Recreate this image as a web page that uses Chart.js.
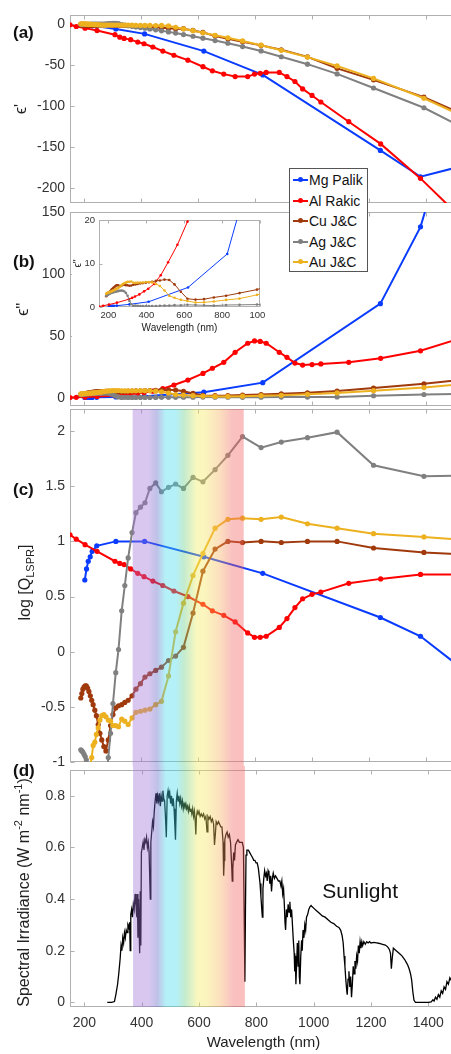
<!DOCTYPE html>
<html lang="en">
<head>
  <meta charset="UTF-8">
  <title>Plasmonic metals: permittivity, LSPR quality and sunlight</title>
  <script src="https://cdn.jsdelivr.net/npm/chart.js"></script>
  <style>
    html, body { margin: 0; padding: 0; background: #fff; }
    body { width: 451px; height: 1054px; overflow: hidden; position: relative; font-family: Arial, "Liberation Sans", sans-serif; }
    .panel { position: absolute; left: 0; }
    #chartInset { position: absolute; left: 72px; top: 213px; background: #fff; z-index: 2; }
    .tag { position: absolute; left: 13px; font-weight: bold; font-size: 17px; line-height: 20px; color: #111; }
    #legend { position: absolute; left: 289px; top: 168px; width: 77px; height: 102px; border: 1px solid #555; background: #fff; z-index: 3; }
    .row { position: absolute; left: 0; height: 20px; line-height: 20px; font-size: 14px; color: #111; white-space: nowrap; }
    .row i { position: absolute; left: 3px; top: 9px; width: 15px; height: 2px; }
    .row i b { position: absolute; left: 5px; top: -2px; width: 5px; height: 5px; border-radius: 50%; background: inherit; }
    .row span { position: absolute; left: 19px; }
  </style>
</head>
<body>
  <canvas id="chartA" class="panel" width="457" height="206" style="top:0px"></canvas>
  <canvas id="chartB" class="panel" width="457" height="203" style="top:206px"></canvas>
  <canvas id="chartC" class="panel" width="457" height="361" style="top:405px"></canvas>
  <canvas id="chartD" class="panel" width="457" height="288" style="top:766px"></canvas>
  <canvas id="chartInset" width="193" height="125"></canvas>
  <div id="legend"></div>
  <div class="tag" style="top:23px">(a)</div>
  <div class="tag" style="top:252px">(b)</div>
  <div class="tag" style="top:480px">(c)</div>
  <div class="tag" style="top:761px">(d)</div>

  <script>
    // ---- data ----
    const xTicks = [200, 400, 600, 800, 1000, 1200, 1400];
    const ticksA = [-200, -150, -100, -50, 0];
    const ticksB = [0, 50, 100, 150];
    const ticksC = [-1, -0.5, 0, 0.5, 1, 1.5, 2];
    const ticksD = [0, 0.2, 0.4, 0.6, 0.8];
    const insetXTicks = [200, 400, 600, 800, 1000];
    const insetYTicks = [0, 10, 20];
    const visibleBand = [370, 760];

    const seriesNames = ['Mg Palik', 'Al Rakic', 'Cu J&C', 'Ag J&C', 'Au J&C'];

    // Mg (Palik)
    const mgWl = [202, 208, 214, 221, 228, 244, 311, 412, 620, 827, 1240, 1381, 1550];
    const mgRe = [-1.0, -1.2, -1.5, -1.8, -2.2, -2.8, -6, -12, -33, -62, -154, -186, -171];
    const mgIm = [0.22, 0.21, 0.23, 0.25, 0.26, 0.31, 0.6, 1.2, 4.5, 12.2, 76, 138, 270];
    const mgLogQ = [0.65, 0.75, 0.82, 0.86, 0.91, 0.96, 1.0, 1.0, 0.86, 0.71, 0.31, 0.14, -0.2];

    // Al (Rakic)
    const alWl = [150, 172, 203, 245, 308, 325, 340, 363, 388, 410, 441, 476, 515, 564, 617, 650,
                  690, 730, 774, 798, 818, 839, 885, 912, 940, 967, 1000, 1031, 1129, 1241, 1381, 1550];
    const alRe = [-1, -3, -5, -8, -13, -16, -17.5, -19, -22, -24, -28, -33, -38, -44, -52, -57,
                  -61, -64, -64, -61, -60, -59, -59, -64, -70, -79, -87, -95, -119, -146, -188, -245];
    const alIm = [0.1, 0.3, 0.55, 1.0, 1.8, 2.1, 2.4, 2.9, 3.6, 4.2, 5.3, 7.3, 10.3, 14.3, 19.6, 23.8,
                  28.6, 36.7, 44, 45.9, 45.5, 44, 36.7, 32.6, 28, 26.4, 26.8, 27.3, 28.6, 31.8, 37.9, 50];
    const alLogQ = [1.06, 1.02, 0.97, 0.91, 0.82, 0.80, 0.79, 0.75, 0.71, 0.68, 0.64, 0.60, 0.55, 0.50, 0.43, 0.37,
                    0.33, 0.27, 0.17, 0.13, 0.13, 0.14, 0.22, 0.30, 0.40, 0.48, 0.52, 0.54, 0.62, 0.66, 0.70, 0.70];

    // Johnson & Christy grid (Cu, Ag, Au)
    const jcWl = [187.9, 191.6, 195.3, 199.3, 203.3, 207.3, 211.9, 216.4, 221.4, 226.2,
                  231.3, 237.1, 242.6, 249.0, 255.1, 261.6, 268.9, 276.1, 284.4, 292.4,
                  300.9, 310.7, 320.4, 331.5, 342.5, 354.2, 367.9, 381.5, 397.4, 413.3,
                  430.5, 450.9, 471.4, 495.9, 520.9, 548.6, 582.1, 616.8, 659.5, 704.5,
                  756.0, 821.1, 892.0, 984.0, 1088, 1216, 1393, 1610];

    const cuRe = [-0.95, -1.13, -1.33, -1.48, -1.62, -1.72, -1.73, -1.75, -1.67, -1.60,
                  -1.52, -1.42, -1.32, -1.09, -0.89, -0.76, -0.68, -0.64, -0.81, -1.07,
                  -1.35, -1.51, -1.60, -1.69, -1.80, -1.92, -2.15, -2.51, -2.87, -3.36,
                  -3.66, -4.06, -4.42, -5.24, -5.65, -5.70, -7.83, -10.2, -14.5, -18.0,
                  -21.5, -26.0, -31.3, -40.0, -54.0, -68.0, -89.0, -122];
    const cuIm = [2.5, 2.7, 2.9, 3.1, 3.3, 3.5, 3.7, 4.0, 4.2, 4.4,
                  4.6, 4.8, 5.0, 5.0, 4.9, 4.8, 4.9, 5.1, 5.1, 5.0,
                  5.0, 4.9, 4.95, 5.1, 5.2, 5.3, 5.4, 5.5, 5.6, 5.7,
                  5.8, 6.0, 6.1, 6.3, 6.2, 5.2, 3.5, 1.9, 1.7, 1.8,
                  2.2, 2.6, 3.2, 4.0, 5.4, 7.8, 11.2, 16.5];
    const cuLogQ = [-0.42, -0.38, -0.34, -0.32, -0.31, -0.31, -0.33, -0.36, -0.40, -0.44,
                    -0.48, -0.53, -0.58, -0.66, -0.74, -0.80, -0.86, -0.90, -0.80, -0.67,
                    -0.57, -0.51, -0.49, -0.48, -0.46, -0.44, -0.40, -0.34, -0.29, -0.23,
                    -0.20, -0.17, -0.14, -0.08, -0.04, 0.04, 0.35, 0.73, 0.93, 1.00,
                    0.99, 1.00, 0.99, 1.00, 1.00, 0.94, 0.90, 0.87];

    const agRe = [-0.32, -0.31, -0.32, -0.33, -0.36, -0.33, -0.32, -0.30, -0.24, -0.22,
                  -0.20, -0.23, -0.21, -0.21, -0.17, -0.10, 0.02, 0.22, 0.39, 0.58,
                  0.87, 0.90, 0.50, -0.66, -1.28, -2.00, -2.74, -3.47, -4.28, -5.17,
                  -6.06, -7.06, -8.23, -9.56, -11.05, -12.86, -14.88, -17.24, -20.10, -23.40,
                  -27.48, -32.80, -39.84, -48.89, -60.76, -77.93, -102.0, -140.4];
    const agIm = [2.59, 2.71, 2.81, 2.91, 2.98, 3.10, 3.18, 3.26, 3.36, 3.39,
                  3.47, 3.50, 3.58, 3.64, 3.71, 3.74, 3.79, 3.75, 3.56, 3.23,
                  2.58, 1.39, 0.64, 0.28, 0.32, 0.28, 0.23, 0.19, 0.21, 0.23,
                  0.20, 0.21, 0.29, 0.31, 0.33, 0.43, 0.39, 0.50, 0.45, 0.39,
                  0.31, 0.46, 0.50, 0.56, 0.62, 1.59, 2.63, 3.56];
    const agLogQ = [-0.89, -0.90, -0.91, -0.93, -0.95, -0.98, -1.02, -1.06, -1.15, -1.19,
                    -1.24, -1.18, -1.23, -1.24, -1.34, -1.57, -2.3, -1.23, -0.96, -0.74,
                    -0.47, -0.19, 0.02, 0.37, 0.60, 0.85, 1.08, 1.26, 1.31, 1.35,
                    1.48, 1.53, 1.45, 1.49, 1.52, 1.48, 1.58, 1.54, 1.65, 1.78,
                    1.95, 1.85, 1.90, 1.94, 1.99, 1.69, 1.59, 1.60];

    const auRe = [0.23, 0.30, 0.29, 0.20, 0.14, -0.01, -0.13, -0.23, -0.35, -0.42,
                  -0.55, -0.62, -0.74, -0.89, -1.08, -1.24, -1.35, -1.37, -1.33, -1.31,
                  -1.23, -1.24, -1.23, -1.35, -1.31, -1.23, -1.40, -1.60, -1.65, -1.70,
                  -1.69, -1.76, -1.70, -2.28, -3.95, -5.84, -8.11, -10.66, -13.65, -16.82,
                  -20.61, -25.81, -32.04, -40.27, -51.05, -66.22, -90.43, -125.35];
    const auIm = [3.04, 3.18, 3.29, 3.33, 3.40, 3.39, 3.51, 3.61, 3.71, 3.83,
                  3.89, 4.06, 4.16, 4.34, 4.49, 4.72, 4.98, 5.28, 5.49, 5.60,
                  5.78, 5.79, 5.85, 5.57, 5.54, 5.60, 5.61, 5.64, 5.74, 5.72,
                  5.65, 5.28, 4.84, 3.81, 2.58, 2.11, 1.66, 1.37, 1.04, 1.07,
                  1.27, 1.63, 1.93, 2.79, 3.86, 5.70, 8.19, 12.56];
    const auLogQ = [-1.12, -1.03, -1.06, -1.22, -1.39, -2.5, -1.43, -1.20, -1.03, -0.96,
                    -0.85, -0.82, -0.75, -0.69, -0.62, -0.58, -0.57, -0.59, -0.62, -0.63,
                    -0.67, -0.67, -0.68, -0.61, -0.63, -0.66, -0.60, -0.55, -0.54, -0.53,
                    -0.52, -0.48, -0.45, -0.22, 0.18, 0.44, 0.69, 0.89, 1.12, 1.20,
                    1.21, 1.20, 1.22, 1.16, 1.12, 1.07, 1.04, 1.00];

    // solar spectral irradiance (W m^-2 nm^-1)
    const sunWl = [280, 295, 305, 310, 316, 320, 325, 328, 331, 334,
                   337, 340, 343, 346, 349, 352, 355, 358, 360, 362,
                   365, 368, 371, 374, 377, 380, 383, 385, 387, 389,
                   391, 393, 395, 397, 399, 402, 405, 408, 411, 414,
                   417, 420, 423, 426, 430, 432, 435, 438, 441, 444,
                   447, 450, 453, 456, 459, 462, 465, 468, 471, 474,
                   477, 480, 483, 486, 489, 492, 495, 498, 501, 504,
                   507, 510, 513, 516, 518, 521, 524, 527, 530, 533,
                   536, 539, 542, 545, 548, 551, 554, 557, 560, 563,
                   566, 569, 572, 575, 578, 581, 584, 587, 589, 591,
                   594, 597, 600, 604, 608, 612, 616, 620, 624, 628,
                   631, 635, 639, 643, 647, 651, 654, 657, 660, 664,
                   668, 672, 676, 680, 684, 686, 688, 690, 694, 698,
                   702, 706, 710, 714, 716, 718, 721, 724, 727, 731,
                   736, 741, 746, 751, 755, 758, 760, 762, 764, 767,
                   772, 777, 782, 787, 791, 795, 799, 803, 807, 810,
                   813, 816, 819, 821, 823, 826, 829, 832, 835, 838,
                   841, 844, 847, 850, 853, 856, 859, 863, 867, 872,
                   877, 882, 886, 889, 892, 895, 898, 900, 902, 905,
                   908, 911, 914, 917, 920, 923, 926, 929, 932, 934,
                   936, 938, 941, 943, 946, 948, 950, 952, 955, 958,
                   960, 963, 966, 969, 972, 975, 979, 983, 987, 991,
                   995, 1000, 1010, 1020, 1030, 1040, 1050, 1060, 1070, 1080,
                   1088, 1094, 1099, 1103, 1106, 1109, 1112, 1115, 1117, 1120,
                   1123, 1126, 1129, 1132, 1135, 1138, 1141, 1144, 1147, 1150,
                   1153, 1156, 1159, 1162, 1165, 1168, 1171, 1175, 1180, 1185,
                   1190, 1195, 1200, 1210, 1220, 1230, 1240, 1250, 1258, 1264,
                   1268, 1271, 1274, 1278, 1283, 1288, 1293, 1298, 1303, 1308,
                   1313, 1318, 1323, 1328, 1333, 1338, 1342, 1346, 1350, 1355,
                   1400, 1410, 1416, 1420, 1425, 1430, 1435, 1440, 1445, 1450,
                   1455, 1460, 1465, 1470, 1475, 1480, 1490, 1500];
    const sunIrr = [0, 0, 0.003, 0.03, 0.07, 0.11, 0.17, 0.22, 0.20, 0.25,
                    0.23, 0.27, 0.25, 0.28, 0.27, 0.30, 0.29, 0.31, 0.20, 0.34,
                    0.36, 0.33, 0.38, 0.36, 0.42, 0.38, 0.33, 0.42, 0.25, 0.40,
                    0.30, 0.19, 0.43, 0.22, 0.58, 0.60, 0.62, 0.59, 0.63, 0.62,
                    0.64, 0.60, 0.62, 0.58, 0.40, 0.62, 0.66, 0.70, 0.68, 0.74,
                    0.78, 0.81, 0.77, 0.80, 0.78, 0.81, 0.76, 0.80, 0.78, 0.82,
                    0.79, 0.78, 0.72, 0.64, 0.80, 0.82, 0.79, 0.81, 0.77, 0.80,
                    0.76, 0.79, 0.75, 0.68, 0.63, 0.78, 0.81, 0.78, 0.80, 0.77,
                    0.79, 0.76, 0.78, 0.75, 0.77, 0.76, 0.77, 0.75, 0.76, 0.74,
                    0.76, 0.74, 0.75, 0.73, 0.75, 0.72, 0.74, 0.70, 0.65, 0.72,
                    0.74, 0.73, 0.74, 0.72, 0.73, 0.72, 0.73, 0.71, 0.72, 0.66,
                    0.72, 0.71, 0.72, 0.70, 0.71, 0.69, 0.61, 0.65, 0.70, 0.69,
                    0.70, 0.69, 0.68, 0.68, 0.62, 0.49, 0.55, 0.63, 0.65, 0.66,
                    0.64, 0.65, 0.62, 0.53, 0.47, 0.52, 0.58, 0.55, 0.61, 0.62,
                    0.63, 0.62, 0.62, 0.62, 0.60, 0.30, 0.08, 0.35, 0.57, 0.59,
                    0.59, 0.58, 0.57, 0.56, 0.55, 0.55, 0.54, 0.54, 0.52, 0.49,
                    0.46, 0.41, 0.36, 0.33, 0.44, 0.48, 0.51, 0.49, 0.50, 0.47,
                    0.51, 0.50, 0.46, 0.49, 0.43, 0.48, 0.50, 0.48, 0.49, 0.48,
                    0.47, 0.47, 0.45, 0.47, 0.42, 0.44, 0.37, 0.31, 0.28, 0.36,
                    0.33, 0.38, 0.35, 0.39, 0.33, 0.36, 0.30, 0.24, 0.19, 0.12,
                    0.18, 0.07, 0.16, 0.23, 0.14, 0.24, 0.10, 0.07, 0.18, 0.24,
                    0.20, 0.28, 0.25, 0.30, 0.28, 0.33, 0.34, 0.36, 0.37, 0.375,
                    0.37, 0.365, 0.355, 0.345, 0.335, 0.33, 0.32, 0.31, 0.305, 0.295,
                    0.29, 0.28, 0.26, 0.23, 0.18, 0.14, 0.09, 0.05, 0.03, 0.09,
                    0.12, 0.06, 0.10, 0.02, 0.07, 0.14, 0.11, 0.16, 0.13, 0.18,
                    0.16, 0.22, 0.19, 0.235, 0.21, 0.235, 0.22, 0.235, 0.225, 0.235,
                    0.23, 0.235, 0.23, 0.232, 0.23, 0.228, 0.225, 0.222, 0.215, 0.205,
                    0.19, 0.13, 0.17, 0.21, 0.205, 0.2, 0.195, 0.19, 0.185, 0.18,
                    0.172, 0.165, 0.155, 0.145, 0.13, 0.11, 0.085, 0.04, 0.008, 0,
                    0, 0.002, 0.01, 0.005, 0.02, 0.012, 0.03, 0.02, 0.045, 0.035,
                    0.06, 0.05, 0.08, 0.07, 0.095, 0.085, 0.1, 0.11];

    // ---- styles ----
    const FONT = 'Arial, "Liberation Sans", Helvetica, sans-serif';
    const seriesColours = ['#0a3cff', '#ff0000', '#a03a0c', '#808080', '#edb120'];
    const AXIS = '#b0b0b0';
    const TICK = '#333333';
    const bandStops = [
      [370, 'rgba(160,115,217,0.4)'], [425, 'rgba(160,115,217,0.4)'],
      [455, 'rgba(95,100,195,0.4)'], [485, 'rgba(68,218,235,0.4)'],
      [522, 'rgba(68,218,235,0.4)'], [550, 'rgba(105,205,135,0.4)'],
      [595, 'rgba(242,237,92,0.4)'], [625, 'rgba(245,228,92,0.4)'],
      [672, 'rgba(247,180,92,0.4)'], [720, 'rgba(242,100,100,0.4)'],
      [760, 'rgba(242,92,92,0.4)']
    ];

    Chart.defaults.font.family = FONT;
    Chart.defaults.animation = false;
    Chart.defaults.plugins.legend.display = false;
    Chart.defaults.plugins.tooltip.enabled = false;

    const metals = [
      {wl: mgWl, re: mgRe, im: mgIm, q: mgLogQ},
      {wl: alWl, re: alRe, im: alIm, q: alLogQ},
      {wl: jcWl, re: cuRe, im: cuIm, q: cuLogQ},
      {wl: jcWl, re: agRe, im: agIm, q: agLogQ},
      {wl: jcWl, re: auRe, im: auIm, q: auLogQ}
    ];

    function pairs(xs, ys) { return xs.map((x, i) => ({x: x, y: ys[i]})); }

    function metalSets(key, r, w) {
      return metals.map((m, i) => ({
        label: seriesNames[i],
        data: pairs(m.wl, m[key]),
        borderColor: seriesColours[i],
        backgroundColor: seriesColours[i],
        pointRadius: r, pointHoverRadius: r, pointBorderWidth: 0,
        borderWidth: w,
        order: metals.length - 1 - i
      }));
    }

    function xScale(min, max, ticks, h, opts) {
      opts = opts || {};
      return {
        type: 'linear', min: min, max: max,
        afterBuildTicks: s => { s.ticks = ticks.map(v => ({value: v})); },
        afterFit: s => { s.height = h; s.paddingLeft = 0; s.paddingRight = 0; },
        grid: {display: false, drawTicks: false}, border: {display: false},
        ticks: {display: !!opts.labels, padding: opts.pad || 8, color: TICK, autoSkip: false, maxRotation: 0,
                font: {size: opts.size || 14}, callback: v => String(v)},
        title: opts.title ? {display: true, text: opts.title, color: '#222', font: {size: opts.titleSize || 15},
                             padding: {top: 0, bottom: opts.titlePad || 2}} : {display: false}
      };
    }

    function yScale(min, max, ticks, w, opts) {
      opts = opts || {};
      return {
        type: 'linear', min: min, max: max,
        afterBuildTicks: s => { s.ticks = ticks.map(v => ({value: v})); },
        afterFit: s => { s.width = w; s.paddingTop = 0; s.paddingBottom = 0; },
        grid: {display: false, drawTicks: false}, border: {display: false},
        ticks: {padding: opts.pad || 5, color: TICK, autoSkip: false, font: {size: opts.size || 14},
                callback: v => String(v)}
      };
    }

    // box with inward tick marks (MATLAB look)
    const framePlugin = {
      id: 'frame',
      beforeDatasetsDraw(chart, args, o) {
        const {ctx, chartArea: a, scales} = chart;
        const len = o.len || 4;
        ctx.save();
        ctx.strokeStyle = AXIS;
        ctx.lineWidth = 1;
        const L = Math.round(a.left) + 0.5, T = Math.round(a.top) + 0.5;
        const R = Math.round(a.right) - 0.5, B = Math.round(a.bottom) - 0.5;
        ctx.strokeRect(L, T, R - L, B - T);
        ctx.beginPath();
        scales.x.ticks.forEach(t => {
          const px = Math.round(scales.x.getPixelForValue(t.value)) + 0.5;
          ctx.moveTo(px, B); ctx.lineTo(px, B - len);
          ctx.moveTo(px, T); ctx.lineTo(px, T + len);
        });
        scales.y.ticks.forEach(t => {
          const py = Math.round(scales.y.getPixelForValue(t.value)) + 0.5;
          ctx.moveTo(L, py); ctx.lineTo(L + len, py);
        });
        ctx.stroke();
        ctx.restore();
      }
    };

    // translucent visible-light band
    const bandPlugin = {
      id: 'band',
      afterDraw(chart, args, o) {
        if (!o.on) return;
        const {ctx, chartArea: a, scales: {x}} = chart;
        const x0 = x.getPixelForValue(visibleBand[0]);
        const x1 = x.getPixelForValue(visibleBand[1]);
        const g = ctx.createLinearGradient(x0, 0, x1, 0);
        bandStops.forEach(s => g.addColorStop((s[0] - visibleBand[0]) / (visibleBand[1] - visibleBand[0]), s[1]));
        const y0 = o.toTop ? 0 : a.top;
        const y1 = o.toBottom ? chart.height : a.bottom;
        ctx.save();
        ctx.fillStyle = g;
        ctx.fillRect(x0, y0, x1 - x0, y1 - y0);
        ctx.restore();
      }
    };

    // rotated axis title with sub/superscripts
    const sideTitlePlugin = {
      id: 'sideTitle',
      afterDraw(chart, args, o) {
        if (!o.parts) return;
        const {ctx, chartArea: a} = chart;
        const big = o.size, small = Math.round(o.size * 0.7);
        const fontOf = p => (p[1] ? small : big) + 'px ' + FONT;
        ctx.save();
        ctx.fillStyle = '#222';
        ctx.textBaseline = 'middle';
        ctx.textAlign = 'left';
        let total = 0;
        o.parts.forEach(p => { ctx.font = fontOf(p); total += ctx.measureText(p[0]).width; });
        ctx.translate(o.x, (a.top + a.bottom) / 2 + (o.dy || 0));
        ctx.rotate(-Math.PI / 2);
        let cx = -total / 2;
        o.parts.forEach(p => {
          ctx.font = fontOf(p);
          const shift = p[1] === 'sub' ? big * 0.3 : (p[1] === 'sup' ? -big * 0.35 : 0);
          ctx.fillText(p[0], cx, shift);
          cx += ctx.measureText(p[0]).width;
        });
        ctx.restore();
      }
    };

    // free text placed in data coordinates
    const notePlugin = {
      id: 'note',
      afterDatasetsDraw(chart, args, o) {
        if (!o.text) return;
        const {ctx, scales: {x, y}} = chart;
        ctx.save();
        ctx.font = o.size + 'px ' + FONT;
        ctx.fillStyle = '#111';
        ctx.textAlign = 'center';
        ctx.textBaseline = 'middle';
        ctx.fillText(o.text, x.getPixelForValue(o.at[0]), y.getPixelForValue(o.at[1]));
        ctx.restore();
      }
    };

    const plugins = [framePlugin, bandPlugin, sideTitlePlugin, notePlugin];

    function panel(id, datasets, scales, padTop, extra) {
      return new Chart(document.getElementById(id), {
        type: 'line',
        data: {datasets: datasets},
        options: Object.assign({
          responsive: false,
          layout: {padding: {top: padTop, left: 0, right: 0, bottom: 0}},
          scales: scales
        }, extra.options || {}),
        plugins: plugins
      });
    }

    // (a) real part
    panel('chartA', metalSets('re', 2.6, 2),
      {x: xScale(150, 1500, xTicks, 3), y: yScale(-218, 11, ticksA, 70)}, 15,
      {options: {plugins: {frame: {}, band: {on: false},
        sideTitle: {parts: [['\u03f5\'', '']], size: 16, x: 22}}}});

    // (b) imaginary part
    panel('chartB', metalSets('im', 2.6, 2),
      {x: xScale(150, 1500, xTicks, 1), y: yScale(-7, 150, ticksB, 70)}, 6,
      {options: {plugins: {frame: {}, band: {on: false},
        sideTitle: {parts: [['\u03f5\'\'', '']], size: 16, x: 24}}}});

    // (c) log quality factor
    panel('chartC', metalSets('q', 2.6, 2),
      {x: xScale(150, 1500, xTicks, 4), y: yScale(-1, 2.2, ticksC, 70)}, 4,
      {options: {plugins: {frame: {}, band: {on: true, toBottom: true},
        sideTitle: {parts: [['log [Q', ''], ['LSPR', 'sub'], [']', '']], size: 16, x: 26, dy: -3}}}});

    // (d) sunlight
    panel('chartD', [{
        label: 'Sunlight', data: pairs(sunWl, sunIrr),
        borderColor: '#000', backgroundColor: '#000', borderWidth: 1.3, pointRadius: 0
      }],
      {x: xScale(150, 1500, xTicks, 47, {labels: true, title: 'Wavelength (nm)', titleSize: 15, titlePad: 2}),
       y: yScale(-0.018, 0.9, ticksD, 70)}, 4,
      {options: {plugins: {frame: {}, band: {on: true, toTop: true},
        sideTitle: {parts: [['Spectral Irradiance (W m', ''], ['-2', 'sup'], [' nm', ''], ['-1', 'sup'], [')', '']],
                    size: 16, x: 25, dy: 4},
        note: {text: 'Sunlight', at: [1162, 0.425], size: 21}}}});

    // inset of (b)
    new Chart(document.getElementById('chartInset'), {
      type: 'line',
      data: {datasets: metalSets('im', 1.3, 1)},
      options: {
        responsive: false,
        layout: {padding: {top: 7, left: 0, right: 5, bottom: 0}},
        scales: {
          x: xScale(150, 1000, insetXTicks, 31, {labels: true, size: 9.5, pad: 3, title: 'Wavelength (nm)', titleSize: 10, titlePad: 4}),
          y: yScale(0, 20, insetYTicks, 27, {size: 9.5, pad: 4})
        },
        plugins: {frame: {len: 3}, band: {on: false},
          sideTitle: {parts: [['\u03f5\'\'', '']], size: 10, x: 6}}
      },
      plugins: plugins
    });

    // shared legend over (a) and (b)
    const legend = document.getElementById('legend');
    seriesNames.forEach((name, i) => {
      const row = document.createElement('div');
      row.className = 'row';
      row.style.top = (1 + i * 20.5) + 'px';
      row.innerHTML = '<i style="background:' + seriesColours[i] + '"><b></b></i><span></span>';
      row.querySelector('span').textContent = name;
      legend.appendChild(row);
    });
  </script>
</body>
</html>
